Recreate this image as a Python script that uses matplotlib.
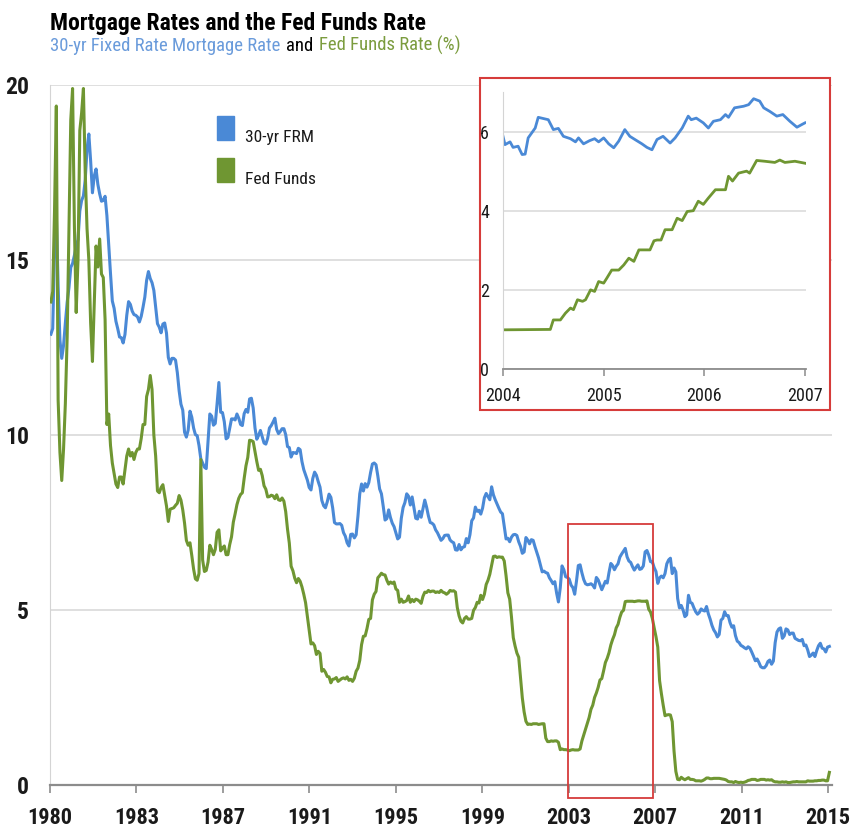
#!/usr/bin/env python3

# Mortgage rates vs Fed Funds rate, monthly, with 2004-2007 zoom inset

import numpy as np
import matplotlib.pyplot as plt
from matplotlib import font_manager
from matplotlib.patches import Rectangle

# want a narrow sans like Arial Narrow; fall back to Liberation Sans
fonts = font_manager.fontManager.ttflist
names = set(f.name for f in fonts)
cond = [f.name for f in fonts if f.stretch in ('condensed', 'semi-condensed')
        or 'Narrow' in f.name or 'Condensed' in f.name]
stretch = 'normal'
if 'Liberation Sans Narrow' in names:
    narrow, k = 'Liberation Sans Narrow', 1.0
elif 'Roboto Condensed' in names:
    narrow, k = 'Roboto Condensed', 1.0
elif 'DejaVu Sans' in cond:
    narrow, k, stretch = 'DejaVu Sans', 0.86, 'condensed'
else:
    narrow, k = 'Liberation Sans', 0.86

blue = '#4a89d6'
green = '#6f9632'
red = '#d63c3a'
txt = '#1a1a1a'

# 30-yr FRM, monthly, Jan 1980 .. Dec 2015
frm = [
    12.88, 13.04, 15.28, 16.32, 14.26, 12.71, 12.19, 12.56, 13.20, 13.79, 14.21, 14.79,  # 1980
    14.90, 15.13, 15.40, 15.58, 16.40, 16.70, 16.83, 17.29, 18.16, 18.60, 17.83, 16.92,  # 1981
    17.40, 17.60, 17.16, 16.89, 16.68, 16.70, 16.82, 16.27, 15.43, 14.61, 13.83, 13.62,  # 1982
    13.25, 13.04, 12.80, 12.78, 12.63, 12.87, 13.42, 13.81, 13.73, 13.54, 13.44, 13.42,  # 1983
    13.37, 13.23, 13.39, 13.65, 13.94, 14.42, 14.67, 14.47, 14.35, 14.13, 13.64, 13.18,  # 1984
    13.08, 12.92, 13.17, 13.20, 12.91, 12.22, 12.03, 12.19, 12.19, 12.14, 11.78, 11.26,  # 1985
    10.88, 10.71, 10.08, 9.94, 10.14, 10.68, 10.51, 10.20, 10.01, 9.98, 9.70, 9.32,  # 1986
    9.20, 9.08, 9.04, 9.83, 10.60, 10.54, 10.28, 10.33, 10.89, 11.50, 10.65, 10.64,  # 1987
    10.38, 9.89, 9.93, 10.20, 10.46, 10.46, 10.43, 10.60, 10.48, 10.30, 10.27, 10.61,  # 1988
    10.73, 10.65, 11.03, 11.05, 10.77, 10.20, 9.88, 9.99, 10.13, 9.95, 9.77, 9.74,  # 1989
    9.90, 10.20, 10.27, 10.37, 10.48, 10.16, 10.04, 10.10, 10.18, 10.18, 10.01, 9.67,  # 1990
    9.64, 9.37, 9.50, 9.49, 9.47, 9.62, 9.58, 9.24, 9.01, 8.86, 8.71, 8.50,  # 1991
    8.43, 8.76, 8.94, 8.85, 8.67, 8.51, 8.13, 7.98, 7.92, 8.09, 8.31, 8.22,  # 1992
    7.92, 7.50, 7.46, 7.46, 7.47, 7.42, 7.21, 7.11, 6.92, 6.83, 7.16, 7.17,  # 1993
    7.06, 7.15, 7.68, 8.32, 8.60, 8.40, 8.61, 8.51, 8.64, 8.93, 9.17, 9.20,  # 1994
    9.15, 8.83, 8.46, 8.32, 7.96, 7.57, 7.61, 7.86, 7.64, 7.48, 7.38, 7.20,  # 1995
    7.03, 7.08, 7.62, 7.93, 8.07, 8.32, 8.25, 8.00, 8.23, 7.92, 7.62, 7.60,  # 1996
    7.82, 7.65, 7.90, 8.14, 7.94, 7.69, 7.50, 7.48, 7.43, 7.29, 7.21, 7.10,  # 1997
    6.99, 7.04, 7.13, 7.14, 7.14, 7.00, 6.95, 6.92, 6.72, 6.71, 6.87, 6.72,  # 1998
    6.79, 6.81, 7.04, 6.92, 7.15, 7.55, 7.63, 7.94, 7.82, 7.85, 7.74, 7.91,  # 1999
    8.21, 8.33, 8.24, 8.15, 8.52, 8.29, 8.15, 8.03, 7.91, 7.80, 7.75, 7.38,  # 2000
    7.03, 7.05, 6.95, 7.08, 7.15, 7.16, 7.13, 6.95, 6.82, 6.62, 6.66, 7.07,  # 2001
    7.00, 6.89, 7.01, 6.99, 6.81, 6.65, 6.49, 6.29, 6.09, 6.11, 6.07, 6.05,  # 2002
    5.92, 5.84, 5.75, 5.81, 5.48, 5.23, 5.63, 6.26, 6.15, 5.95, 5.93, 5.88,  # 2003
    5.71, 5.64, 5.45, 5.83, 6.27, 6.29, 6.06, 5.87, 5.75, 5.72, 5.73, 5.75,  # 2004
    5.71, 5.63, 5.93, 5.86, 5.72, 5.58, 5.70, 5.82, 5.77, 6.07, 6.33, 6.27,  # 2005
    6.15, 6.25, 6.32, 6.51, 6.60, 6.68, 6.76, 6.52, 6.40, 6.36, 6.24, 6.14,  # 2006
    6.22, 6.29, 6.16, 6.18, 6.26, 6.66, 6.70, 6.57, 6.38, 6.38, 6.21, 6.10,  # 2007
    5.76, 5.92, 5.97, 5.92, 6.04, 6.32, 6.43, 6.48, 6.04, 6.20, 6.09, 5.33,  # 2008
    5.06, 5.13, 5.00, 4.81, 4.86, 5.42, 5.22, 5.19, 5.06, 4.95, 4.88, 4.93,  # 2009
    5.03, 4.99, 4.97, 5.10, 4.89, 4.74, 4.56, 4.43, 4.35, 4.23, 4.30, 4.71,  # 2010
    4.76, 4.95, 4.84, 4.84, 4.64, 4.51, 4.55, 4.27, 4.11, 4.07, 3.99, 3.96,  # 2011
    3.92, 3.89, 3.95, 3.91, 3.80, 3.68, 3.55, 3.60, 3.50, 3.38, 3.35, 3.35,  # 2012
    3.41, 3.53, 3.57, 3.45, 3.54, 4.07, 4.37, 4.46, 4.49, 4.19, 4.26, 4.46,  # 2013
    4.43, 4.30, 4.34, 4.34, 4.19, 4.16, 4.13, 4.12, 4.16, 3.98, 4.00, 3.86,  # 2014
    3.67, 3.71, 3.77, 3.67, 3.84, 3.98, 4.05, 3.91, 3.89, 3.80, 3.94, 3.96,  # 2015
]

# effective Fed Funds rate, monthly, Jan 1980 .. Dec 2015
fed = [
    13.8, 14.1, 16.4, 19.4, 11.0, 9.5, 8.7, 9.6, 10.9, 12.8, 15.9, 19.0,  # 1980
    19.9, 16.0, 13.5, 15.0, 18.7, 19.2, 19.9, 17.5, 15.9, 15.0, 13.2, 12.1,  # 1981
    13.8, 15.4, 14.8, 15.6, 14.6, 14.5, 13.3, 10.3, 10.6, 9.7, 9.2, 8.9,  # 1982
    8.6, 8.5, 8.8, 8.8, 8.6, 9.0, 9.4, 9.6, 9.4, 9.5, 9.3, 9.5,  # 1983
    9.6, 9.6, 9.9, 10.3, 10.3, 11.1, 11.3, 11.7, 11.3, 10.0, 9.4, 8.4,  # 1984
    8.35, 8.50, 8.58, 8.27, 7.97, 7.53, 7.88, 7.90, 7.92, 7.99, 8.05, 8.27,  # 1985
    8.14, 7.86, 7.48, 6.99, 6.85, 6.92, 6.56, 6.17, 5.89, 5.85, 6.04, 9.30,  # 1986
    6.43, 6.10, 6.13, 6.37, 6.85, 6.73, 6.58, 6.73, 7.22, 7.29, 6.69, 6.77,  # 1987
    6.83, 6.58, 6.58, 6.87, 7.09, 7.51, 7.75, 8.01, 8.19, 8.30, 8.35, 8.76,  # 1988
    9.12, 9.36, 9.85, 9.84, 9.81, 9.53, 9.24, 8.99, 9.02, 8.84, 8.55, 8.45,  # 1989
    8.23, 8.24, 8.28, 8.26, 8.18, 8.29, 8.15, 8.13, 8.20, 8.11, 7.81, 7.31,  # 1990
    6.91, 6.25, 6.12, 5.91, 5.78, 5.90, 5.82, 5.66, 5.45, 5.21, 4.81, 4.43,  # 1991
    4.03, 4.06, 3.98, 3.73, 3.82, 3.76, 3.25, 3.30, 3.22, 3.10, 3.09, 2.92,  # 1992
    3.02, 3.03, 3.07, 2.96, 3.00, 3.04, 3.06, 3.03, 3.09, 2.99, 3.02, 2.96,  # 1993
    3.05, 3.25, 3.34, 3.56, 4.01, 4.25, 4.26, 4.47, 4.73, 4.76, 5.29, 5.45,  # 1994
    5.53, 5.92, 5.98, 6.05, 6.01, 6.00, 5.85, 5.74, 5.80, 5.76, 5.80, 5.60,  # 1995
    5.56, 5.22, 5.31, 5.22, 5.24, 5.27, 5.40, 5.22, 5.30, 5.24, 5.31, 5.29,  # 1996
    5.25, 5.19, 5.39, 5.51, 5.50, 5.56, 5.52, 5.54, 5.54, 5.50, 5.52, 5.50,  # 1997
    5.56, 5.51, 5.49, 5.45, 5.49, 5.56, 5.54, 5.55, 5.51, 5.07, 4.83, 4.68,  # 1998
    4.63, 4.76, 4.81, 4.74, 4.74, 4.76, 4.99, 5.07, 5.22, 5.20, 5.42, 5.30,  # 1999
    5.45, 5.73, 5.85, 6.02, 6.27, 6.53, 6.54, 6.50, 6.52, 6.51, 6.51, 6.40,  # 2000
    5.98, 5.49, 5.31, 4.80, 4.21, 3.97, 3.77, 3.65, 3.07, 2.49, 2.09, 1.82,  # 2001
    1.73, 1.74, 1.73, 1.75, 1.75, 1.75, 1.73, 1.74, 1.75, 1.75, 1.34, 1.24,  # 2002
    1.24, 1.26, 1.25, 1.26, 1.26, 1.22, 1.01, 1.03, 1.01, 1.01, 1.00, 0.98,  # 2003
    1.00, 1.01, 1.00, 1.00, 1.00, 1.03, 1.26, 1.43, 1.61, 1.76, 1.93, 2.16,  # 2004
    2.28, 2.50, 2.63, 2.79, 3.00, 3.04, 3.26, 3.50, 3.62, 3.78, 4.00, 4.16,  # 2005
    4.29, 4.49, 4.59, 4.79, 4.94, 4.99, 5.24, 5.25, 5.25, 5.25, 5.25, 5.24,  # 2006
    5.25, 5.26, 5.26, 5.25, 5.25, 5.25, 5.26, 5.02, 4.94, 4.76, 4.49, 4.24,  # 2007
    3.94, 2.98, 2.61, 2.28, 1.98, 2.00, 2.01, 2.00, 1.81, 0.97, 0.39, 0.16,  # 2008
    0.15, 0.22, 0.18, 0.15, 0.18, 0.21, 0.16, 0.16, 0.15, 0.12, 0.12, 0.12,  # 2009
    0.11, 0.13, 0.16, 0.20, 0.20, 0.18, 0.18, 0.19, 0.19, 0.19, 0.19, 0.18,  # 2010
    0.17, 0.16, 0.14, 0.10, 0.09, 0.09, 0.07, 0.10, 0.08, 0.07, 0.08, 0.07,  # 2011
    0.08, 0.10, 0.13, 0.14, 0.16, 0.16, 0.16, 0.13, 0.14, 0.16, 0.16, 0.16,  # 2012
    0.14, 0.15, 0.14, 0.15, 0.11, 0.09, 0.09, 0.08, 0.08, 0.09, 0.08, 0.09,  # 2013
    0.07, 0.07, 0.08, 0.09, 0.09, 0.10, 0.09, 0.09, 0.09, 0.09, 0.09, 0.12,  # 2014
    0.11, 0.11, 0.11, 0.12, 0.12, 0.13, 0.13, 0.14, 0.14, 0.12, 0.12, 0.36,  # 2015
]

# inset, weekly-ish readings 2004-2007
ins_frm_t = [2004.00, 2004.02, 2004.07, 2004.10, 2004.15, 2004.19, 2004.22, 2004.25,
             2004.32, 2004.35, 2004.40, 2004.45, 2004.50, 2004.55, 2004.60, 2004.67,
             2004.72, 2004.75, 2004.80, 2004.86, 2004.91, 2004.95, 2005.00, 2005.05,
             2005.10, 2005.15, 2005.21, 2005.26, 2005.31, 2005.38, 2005.43, 2005.48,
             2005.53, 2005.59, 2005.66, 2005.71, 2005.78, 2005.84, 2005.87, 2005.92,
             2005.99, 2006.04, 2006.09, 2006.16, 2006.21, 2006.24, 2006.30, 2006.39,
             2006.44, 2006.49, 2006.55, 2006.59, 2006.65, 2006.72, 2006.78, 2006.85,
             2006.92, 2006.97, 2007.00]
ins_frm = [5.88, 5.67, 5.74, 5.60, 5.63, 5.42, 5.43, 5.84,
           6.09, 6.36, 6.33, 6.30, 6.05, 6.08, 5.88, 5.82,
           5.74, 5.84, 5.69, 5.77, 5.82, 5.74, 5.84, 5.69,
           5.59, 5.76, 6.05, 5.88, 5.80, 5.69, 5.60, 5.54,
           5.80, 5.88, 5.71, 5.84, 6.09, 6.39, 6.30, 6.34,
           6.22, 6.09, 6.26, 6.30, 6.43, 6.36, 6.60, 6.64,
           6.68, 6.83, 6.77, 6.60, 6.51, 6.39, 6.43, 6.26,
           6.11, 6.18, 6.22]

ins_fed_t = [2004.00, 2004.47, 2004.50, 2004.57, 2004.62, 2004.67, 2004.70, 2004.74,
             2004.79, 2004.82, 2004.87, 2004.91, 2004.95, 2005.00, 2005.03, 2005.08,
             2005.15, 2005.20, 2005.25, 2005.30, 2005.35, 2005.46, 2005.50, 2005.53,
             2005.57, 2005.61, 2005.68, 2005.73, 2005.78, 2005.83, 2005.89, 2005.94,
             2005.99, 2006.04, 2006.11, 2006.21, 2006.24, 2006.28, 2006.34, 2006.42,
             2006.45, 2006.52, 2006.60, 2006.70, 2006.75, 2006.80, 2006.90, 2007.00]
ins_fed = [0.99, 1.00, 1.24, 1.24, 1.41, 1.54, 1.50, 1.75,
           1.71, 1.75, 2.00, 1.96, 2.21, 2.17, 2.29, 2.50,
           2.50, 2.63, 2.80, 2.72, 3.01, 3.01, 3.24, 3.26,
           3.26, 3.52, 3.52, 3.81, 3.75, 3.98, 4.00, 4.24,
           4.16, 4.32, 4.53, 4.53, 4.87, 4.75, 4.95, 5.00,
           4.95, 5.27, 5.25, 5.22, 5.28, 5.22, 5.25, 5.20]

xtick_labels = ['1980', '1983', '1987', '1991', '1995', '1999', '2003', '2007', '2011', '2015']
ins_xticks = [2004, 2005, 2006, 2007]

W, H = 853, 833
fig = plt.figure(figsize=(W / 100, H / 100), dpi=100, facecolor='white')
font = dict(family=narrow, stretch=stretch)

# ---- main chart
ax = fig.add_axes([50 / W, 48 / H, 782 / W, 700 / H])
t = 1980 + (np.arange(len(frm)) + 0.5) / 12
ax.plot(t, frm, color=blue, lw=2.2, zorder=3)
ax.plot(t, fed, color=green, lw=2.2, zorder=3)
ax.set_xlim(1980, 2016.08)
ax.set_ylim(0, 20)
ax.set_xticks(np.linspace(1980, 2015.9, len(xtick_labels)))
ax.set_xticklabels(xtick_labels)
ax.set_yticks([0, 5, 10, 15, 20])
ax.grid(axis='y', color='#d9d9d9', lw=1.2)
ax.set_axisbelow(True)
for s in ['top', 'right']:
    ax.spines[s].set_visible(False)
ax.spines['left'].set_color('#d4d4d4')
ax.spines['bottom'].set_color('#8c8c8c')
ax.spines['bottom'].set_linewidth(1.6)
ax.tick_params(axis='x', length=6, width=1.2, color='#8c8c8c', pad=10)
ax.tick_params(axis='y', length=0, pad=15)
for lab in ax.get_xticklabels():
    lab.set(fontsize=16 * k, fontweight='bold', color=txt, **font)
for lab in ax.get_yticklabels():
    lab.set(fontsize=17 * k, fontweight='bold', color=txt, **font)

# red box marking the zoomed period
ax.add_patch(Rectangle((2003.88, -0.37), 3.95, 7.83, fill=False,
                       edgecolor=red, lw=1.3, clip_on=False, zorder=4))

# ---- titles
fig.text(50 / W, 1 - 30 / H, 'Mortgage Rates and the Fed Funds Rate',
         fontsize=17 * k, fontweight='bold', color='black', va='baseline', **font)
s1 = fig.text(50 / W, 1 - 51 / H, '30-yr Fixed Rate Mortgage Rate',
              fontsize=13.5 * k, color='#6a9bdb', va='baseline', **font)
s2 = ax.annotate('and', xy=(1, 0), xycoords=s1, xytext=(4, 0), textcoords='offset points',
                 fontsize=13.5 * k, color='black', va='bottom', **font)
s3 = ax.annotate('Fed Funds Rate (%)', xy=(1, 0), xycoords=s2, xytext=(4, 0),
                 textcoords='offset points', fontsize=13.5 * k,
                 color='#7b9c3e', va='bottom', **font)

# ---- legend (drawn by hand to match)
leg = [('30-yr FRM', blue), ('Fed Funds', green)]
for i, (name, c) in enumerate(leg):
    top = 116 + i * 42
    fig.add_artist(Rectangle((217 / W, 1 - (top + 24) / H), 17 / W, 24 / H,
                             transform=fig.transFigure, color=c))
    fig.text(245 / W, 1 - (top + 26) / H, name, fontsize=12.5 * k,
             color=txt, va='baseline', **font)

# ---- inset
frame = Rectangle((480 / W, 1 - 410 / H), 350 / W, 332 / H, transform=fig.transFigure,
                  facecolor='white', edgecolor=red, lw=1.5, zorder=5)
fig.add_artist(frame)
axi = fig.add_axes([503 / W, 1 - 369 / H, 303 / W, 277 / H], zorder=6)
axi.patch.set_alpha(0)
axi.plot(ins_frm_t, ins_frm, color=blue, lw=2.0)
axi.plot(ins_fed_t, ins_fed, color=green, lw=2.0)
axi.set_xlim(2004, 2007.01)
axi.set_ylim(0, 7)
axi.set_xticks(ins_xticks)
axi.set_xticklabels([str(y) for y in ins_xticks])
axi.set_yticks([0, 2, 4, 6])
axi.grid(axis='y', color='#d9d9d9', lw=1.1)
axi.set_axisbelow(True)
for s in ['top', 'right']:
    axi.spines[s].set_visible(False)
axi.spines['left'].set_color('#d4d4d4')
axi.spines['bottom'].set_color('#8c8c8c')
axi.spines['bottom'].set_linewidth(1.3)
axi.tick_params(axis='x', length=5, width=1.1, color='#8c8c8c', pad=8)
axi.tick_params(axis='y', length=0, pad=10)
for lab in axi.get_xticklabels() + axi.get_yticklabels():
    lab.set(fontsize=13 * k, color=txt, **font)

fig.savefig('out.png', dpi=100)
